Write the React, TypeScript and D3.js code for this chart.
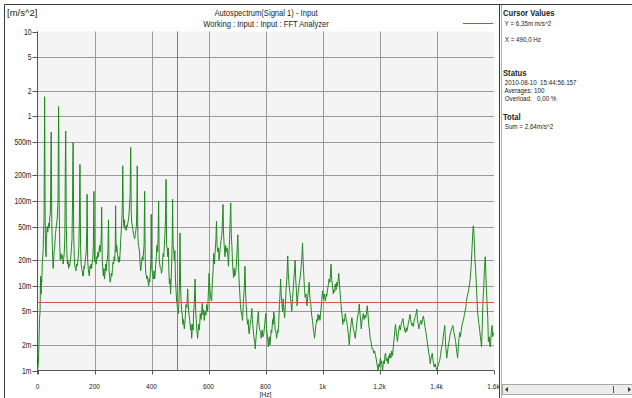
import React, { useEffect, useRef } from 'react'
import * as d3 from 'd3'

// autospectrum, [Hz, m/s^2]
const spectrum: [number, number][] = [
    [0, 0.001], [3, 0.0012], [5, 0.002], [7, 0.004], [9, 0.005], [10, 0.009], [11, 0.013], [12, 0.009], [13, 0.008], [14, 0.012],
    [15, 0.011], [17, 0.019], [19, 0.024], [20, 0.027], [21, 0.04], [23, 0.06], [24, 0.3], [25, 1.7], [26, 0.3], [27, 0.06],
    [28, 0.03], [30, 0.022], [31, 0.035], [33, 0.045], [34, 0.05], [36, 0.043], [38, 0.05], [40, 0.055], [41, 0.048], [43, 0.065],
    [45, 0.07], [46, 0.12], [47, 0.3], [48, 0.65], [49, 0.25], [50, 0.06], [52, 0.03], [53, 0.022], [55, 0.016], [57, 0.02],
    [58, 0.025], [60, 0.027], [61, 0.032], [63, 0.04], [65, 0.047], [67, 0.055], [69, 0.06], [70, 0.07], [72, 0.1], [73, 0.4],
    [74, 1.3], [75, 0.5], [76, 0.09], [78, 0.03], [80, 0.02], [82, 0.024], [84, 0.021], [86, 0.023], [88, 0.022], [90, 0.018],
    [92, 0.021], [94, 0.025], [96, 0.04], [97, 0.12], [98, 0.35], [99, 0.67], [100, 0.2], [101, 0.05], [103, 0.025], [105, 0.018],
    [107, 0.02], [109, 0.016], [111, 0.018], [113, 0.017], [115, 0.02], [117, 0.022], [119, 0.028], [121, 0.035], [123, 0.1], [124, 0.3],
    [125, 0.49], [126, 0.15], [127, 0.04], [129, 0.022], [131, 0.017], [133, 0.016], [135, 0.015], [137, 0.018], [139, 0.017], [141, 0.019],
    [143, 0.022], [145, 0.028], [147, 0.06], [148, 0.15], [149, 0.27], [150, 0.1], [151, 0.03], [153, 0.018], [155, 0.016], [157, 0.015],
    [159, 0.013], [161, 0.013], [163, 0.017], [165, 0.016], [167, 0.019], [169, 0.022], [171, 0.025], [173, 0.05], [174, 0.12], [175, 0.06],
    [176, 0.02], [178, 0.016], [180, 0.014], [182, 0.013], [184, 0.017], [186, 0.016], [188, 0.018], [190, 0.016], [192, 0.019], [194, 0.021],
    [196, 0.03], [198, 0.13], [199, 0.06], [200, 0.02], [202, 0.019], [204, 0.02], [206, 0.018], [208, 0.022], [210, 0.021], [212, 0.025],
    [214, 0.022], [216, 0.026], [218, 0.03], [220, 0.025], [222, 0.03], [224, 0.04], [225, 0.085], [226, 0.05], [227, 0.02], [229, 0.016],
    [231, 0.013], [233, 0.016], [235, 0.012], [237, 0.014], [239, 0.018], [241, 0.015], [243, 0.019], [245, 0.02], [247, 0.025], [249, 0.06],
    [250, 0.04], [251, 0.015], [253, 0.013], [255, 0.011], [257, 0.012], [259, 0.014], [261, 0.013], [263, 0.016], [265, 0.019], [267, 0.018],
    [269, 0.022], [271, 0.02], [273, 0.03], [274, 0.088], [275, 0.04], [276, 0.025], [278, 0.03], [280, 0.025], [282, 0.022], [284, 0.019],
    [286, 0.022], [288, 0.019], [290, 0.025], [292, 0.035], [294, 0.045], [296, 0.06], [298, 0.1], [299, 0.26], [300, 0.15], [301, 0.07],
    [303, 0.05], [305, 0.06], [307, 0.047], [309, 0.05], [311, 0.045], [313, 0.052], [315, 0.05], [317, 0.055], [319, 0.06], [321, 0.07],
    [323, 0.09], [325, 0.12], [327, 0.43], [328, 0.2], [329, 0.07], [331, 0.055], [333, 0.05], [335, 0.045], [337, 0.04], [339, 0.038],
    [341, 0.036], [343, 0.04], [345, 0.045], [347, 0.05], [349, 0.1], [350, 0.26], [351, 0.09], [352, 0.04], [354, 0.03], [356, 0.028],
    [358, 0.025], [360, 0.018], [362, 0.015], [364, 0.017], [366, 0.02], [368, 0.022], [370, 0.02], [372, 0.025], [374, 0.03], [376, 0.13],
    [377, 0.05], [378, 0.02], [380, 0.014], [382, 0.013], [384, 0.012], [386, 0.013], [388, 0.011], [390, 0.01], [392, 0.012], [394, 0.011],
    [396, 0.015], [398, 0.02], [399, 0.07], [400, 0.03], [401, 0.016], [403, 0.014], [405, 0.013], [407, 0.012], [409, 0.015], [411, 0.012],
    [413, 0.014], [415, 0.018], [417, 0.022], [419, 0.03], [421, 0.025], [423, 0.035], [425, 0.1], [426, 0.05], [427, 0.02], [429, 0.018],
    [431, 0.016], [433, 0.016], [435, 0.014], [437, 0.015], [439, 0.02], [441, 0.024], [443, 0.022], [445, 0.03], [447, 0.04], [449, 0.06],
    [451, 0.18], [452, 0.08], [453, 0.03], [455, 0.028], [457, 0.022], [459, 0.028], [461, 0.015], [463, 0.0105], [465, 0.012], [467, 0.008],
    [469, 0.012], [471, 0.02], [473, 0.04], [474, 0.105], [475, 0.05], [476, 0.03], [478, 0.026], [480, 0.02], [482, 0.026], [484, 0.012],
    [486, 0.009], [488, 0.0066], [490, 0.006], [492, 0.005], [494, 0.0047], [496, 0.006], [498, 0.01], [500, 0.042], [501, 0.02], [502, 0.01],
    [504, 0.0066], [506, 0.005], [508, 0.0045], [510, 0.0035], [512, 0.004], [515, 0.0031], [518, 0.004], [521, 0.006], [524, 0.0055], [527, 0.0092],
    [530, 0.005], [532, 0.0045], [534, 0.0039], [537, 0.003], [539, 0.0035], [541, 0.0024], [544, 0.0035], [546, 0.003], [548, 0.005], [550, 0.006],
    [553, 0.012], [555, 0.005], [557, 0.004], [559, 0.003], [562, 0.0024], [565, 0.0035], [568, 0.003], [571, 0.0047], [574, 0.004], [576, 0.005],
    [578, 0.0062], [581, 0.0045], [583, 0.0052], [585, 0.0039], [588, 0.005], [591, 0.0045], [594, 0.006], [597, 0.005], [600, 0.009], [602, 0.014],
    [605, 0.009], [608, 0.007], [611, 0.0066], [613, 0.01], [616, 0.015], [618, 0.024], [621, 0.018], [623, 0.025], [626, 0.035], [628, 0.058],
    [630, 0.03], [632, 0.025], [635, 0.028], [637, 0.02], [640, 0.025], [642, 0.03], [644, 0.034], [647, 0.04], [649, 0.06], [651, 0.091],
    [653, 0.04], [655, 0.03], [658, 0.022], [660, 0.03], [663, 0.025], [665, 0.028], [668, 0.022], [670, 0.017], [672, 0.025], [674, 0.035],
    [676, 0.06], [678, 0.095], [680, 0.04], [682, 0.03], [684, 0.02], [686, 0.015], [688, 0.0125], [690, 0.016], [692, 0.013], [695, 0.014],
    [698, 0.018], [700, 0.025], [703, 0.04], [705, 0.02], [707, 0.012], [710, 0.008], [712, 0.006], [714, 0.005], [717, 0.0045], [719, 0.0039],
    [721, 0.005], [723, 0.007], [726, 0.01], [728, 0.017], [730, 0.009], [732, 0.006], [735, 0.0042], [737, 0.0035], [739, 0.004], [741, 0.003],
    [743, 0.0027], [746, 0.0035], [749, 0.004], [752, 0.0054], [754, 0.004], [757, 0.003], [759, 0.0025], [762, 0.0022], [764, 0.0018], [767, 0.0025],
    [769, 0.003], [772, 0.004], [775, 0.005], [777, 0.0035], [780, 0.003], [783, 0.0028], [785, 0.0024], [788, 0.003], [791, 0.0025], [794, 0.0027],
    [797, 0.0035], [799, 0.004], [801, 0.0047], [804, 0.003], [807, 0.0025], [810, 0.0019], [813, 0.0025], [815, 0.002], [817, 0.0022], [820, 0.003],
    [822, 0.0028], [825, 0.004], [827, 0.0035], [829, 0.0049], [832, 0.004], [834, 0.003], [837, 0.0028], [839, 0.0024], [842, 0.003], [844, 0.0028],
    [846, 0.0035], [849, 0.006], [851, 0.008], [853, 0.012], [855, 0.008], [858, 0.006], [860, 0.005], [862, 0.007], [865, 0.005], [867, 0.0042],
    [870, 0.006], [872, 0.009], [875, 0.012], [878, 0.0225], [880, 0.014], [883, 0.01], [885, 0.0087], [888, 0.007], [890, 0.006], [892, 0.005],
    [895, 0.007], [898, 0.01], [901, 0.014], [904, 0.02], [906, 0.012], [909, 0.008], [911, 0.0058], [914, 0.008], [916, 0.009], [918, 0.0105],
    [921, 0.012], [924, 0.015], [927, 0.02], [930, 0.032], [932, 0.02], [935, 0.012], [937, 0.009], [939, 0.0073], [942, 0.008], [944, 0.006],
    [946, 0.0058], [949, 0.008], [951, 0.009], [953, 0.011], [956, 0.007], [959, 0.006], [962, 0.0045], [965, 0.0039], [968, 0.003], [970, 0.0028],
    [972, 0.0024], [975, 0.003], [977, 0.0035], [980, 0.004], [982, 0.0038], [984, 0.0046], [987, 0.004], [989, 0.0045], [991, 0.0039], [994, 0.005],
    [997, 0.0065], [1000, 0.0087], [1003, 0.007], [1006, 0.008], [1008, 0.0072], [1010, 0.0066], [1013, 0.008], [1015, 0.0075], [1017, 0.0087], [1020, 0.01],
    [1023, 0.012], [1026, 0.011], [1028, 0.014], [1030, 0.018], [1032, 0.012], [1035, 0.01], [1038, 0.008], [1040, 0.009], [1043, 0.0085], [1045, 0.0105],
    [1048, 0.009], [1050, 0.011], [1053, 0.01], [1055, 0.012], [1057, 0.014], [1060, 0.01], [1062, 0.008], [1064, 0.0066], [1067, 0.005], [1069, 0.0045],
    [1071, 0.0035], [1074, 0.004], [1077, 0.0038], [1080, 0.0047], [1083, 0.004], [1085, 0.0038], [1087, 0.0034], [1090, 0.0028], [1092, 0.0024], [1094, 0.002],
    [1097, 0.0028], [1100, 0.0035], [1103, 0.0042], [1106, 0.0035], [1109, 0.003], [1112, 0.0028], [1115, 0.0024], [1118, 0.003], [1121, 0.0038], [1124, 0.0045],
    [1127, 0.005], [1129, 0.0061], [1132, 0.0045], [1134, 0.0038], [1136, 0.0031], [1139, 0.004], [1141, 0.0042], [1143, 0.0047], [1146, 0.004], [1149, 0.0045],
    [1152, 0.0042], [1155, 0.005], [1157, 0.0058], [1160, 0.0045], [1162, 0.0035], [1165, 0.003], [1167, 0.0024], [1170, 0.0022], [1172, 0.002], [1174, 0.0018],
    [1177, 0.0018], [1180, 0.0016], [1183, 0.0017], [1186, 0.0015], [1188, 0.0014], [1191, 0.0012], [1195, 0.001], [1198, 0.0012], [1200, 0.0011], [1203, 0.0014],
    [1205, 0.0012], [1207, 0.0013], [1209, 0.0011], [1211, 0.001], [1214, 0.0013], [1217, 0.0012], [1219, 0.0015], [1221, 0.0016], [1224, 0.0013], [1227, 0.0014],
    [1230, 0.0012], [1233, 0.0015], [1235, 0.0014], [1237, 0.0016], [1240, 0.0014], [1243, 0.0017], [1246, 0.0015], [1249, 0.002], [1252, 0.0025], [1254, 0.003],
    [1256, 0.0035], [1259, 0.0028], [1261, 0.0025], [1263, 0.0022], [1266, 0.0028], [1268, 0.003], [1270, 0.0034], [1273, 0.003], [1276, 0.0035], [1279, 0.0038],
    [1282, 0.0041], [1285, 0.0035], [1288, 0.003], [1291, 0.0028], [1294, 0.0032], [1296, 0.0029], [1298, 0.0031], [1301, 0.0036], [1304, 0.004], [1307, 0.0046],
    [1309, 0.004], [1311, 0.0037], [1314, 0.0034], [1316, 0.0036], [1319, 0.0033], [1321, 0.0038], [1324, 0.0042], [1327, 0.0045], [1329, 0.0048], [1331, 0.0053],
    [1333, 0.004], [1336, 0.0035], [1338, 0.0031], [1341, 0.0035], [1343, 0.0037], [1345, 0.0039], [1348, 0.0035], [1351, 0.004], [1354, 0.0044], [1357, 0.0038],
    [1360, 0.0032], [1363, 0.0028], [1366, 0.0024], [1368, 0.0021], [1370, 0.0019], [1373, 0.0016], [1376, 0.0014], [1378, 0.0012], [1381, 0.0014], [1383, 0.0015],
    [1385, 0.0016], [1388, 0.0013], [1390, 0.0012], [1392, 0.0011], [1395, 0.0012], [1398, 0.0011], [1401, 0.001], [1404, 0.0011], [1407, 0.0012], [1411, 0.0013],
    [1414, 0.0015], [1417, 0.0018], [1420, 0.002], [1422, 0.0022], [1425, 0.0028], [1427, 0.003], [1429, 0.0034], [1431, 0.0025], [1433, 0.0018], [1436, 0.0014],
    [1438, 0.0016], [1441, 0.0019], [1443, 0.0021], [1446, 0.0024], [1449, 0.0028], [1452, 0.003], [1455, 0.0032], [1457, 0.0034], [1460, 0.003], [1462, 0.0027],
    [1465, 0.0024], [1467, 0.0022], [1470, 0.0018], [1472, 0.0016], [1474, 0.0014], [1477, 0.002], [1479, 0.0024], [1481, 0.0028], [1484, 0.0025], [1487, 0.003],
    [1490, 0.0035], [1493, 0.0038], [1496, 0.0042], [1498, 0.0046], [1500, 0.005], [1503, 0.0055], [1505, 0.0065], [1507, 0.0073], [1510, 0.008], [1513, 0.009],
    [1516, 0.0105], [1518, 0.012], [1521, 0.016], [1524, 0.025], [1527, 0.04], [1529, 0.051], [1531, 0.045], [1533, 0.03], [1535, 0.02], [1537, 0.016],
    [1540, 0.01], [1542, 0.007], [1544, 0.005], [1547, 0.004], [1549, 0.0035], [1551, 0.0031], [1554, 0.0025], [1556, 0.0022], [1558, 0.0019], [1560, 0.003],
    [1563, 0.0066], [1566, 0.01], [1568, 0.015], [1571, 0.022], [1573, 0.015], [1575, 0.009], [1577, 0.0066], [1580, 0.004], [1582, 0.0022], [1585, 0.0025],
    [1587, 0.002], [1589, 0.0019], [1592, 0.0028], [1595, 0.0034], [1597, 0.0025], [1600, 0.0028]
]

const yTickValues = [10, 5, 2, 1, 0.5, 0.2, 0.1, 0.05, 0.02, 0.01, 0.005, 0.002, 0.001]
const yTickLabels = ['10', '5', '2', '1', '500m', '200m', '100m', '50m', '20m', '10m', '5m', '2m', '1m']
const xTickValues = [0, 200, 400, 600, 800, 1000, 1200, 1400, 1600]
const xTickLabels = ['0', '200', '400', '600', '800', '1k', '1,2k', '1,4k', '1,6k']

const cursorHz = 490
const cursorLevel = 0.00635

const titleLines = ['Autospectrum(Signal 1) - Input', 'Working : Input : Input : FFT Analyzer']
const unitLabel = '[m/s^2]'
const xUnitLabel = '[Hz]'

// right info panel: [text, bold, y]
const panelRows: [string, boolean, number][] = [
    ['Cursor Values', true, 13],
    [' Y = 6,35m m/s^2', false, 23],
    [' X = 490,0 Hz', false, 39],
    ['Status', true, 73],
    [' 2010-08-10  15:44:56.157', false, 82],
    [' Averages: 100', false, 90],
    [' Overload:   0,00 %', false, 98],
    ['Total', true, 117],
    [' Sum = 2,64m/s^2', false, 126]
]

const font = "'Liberation Sans', Arial, sans-serif"

// narrow the glyphs horizontally, like the condensed UI font of the original
const squeeze = (sel: any, k: number) => {
    sel.each(function (this: SVGTextElement) {
        const len = this.getComputedTextLength()
        if (len > 0) {
            d3.select(this).attr('textLength', len * k).attr('lengthAdjust', 'spacingAndGlyphs')
        }
    })
}

export default function App() {
    const ref = useRef<SVGSVGElement>(null)
    const W = 632
    const H = 398
    const plot = { left: 37.5, right: 494, top: 31.5, bottom: 370.5 }

    useEffect(() => {
        draw()
    }, [])

    const draw = () => {
        const svg = d3.select(ref.current)
        svg.selectAll('*').remove()

        const x = d3.scaleLinear().domain([0, 1600]).range([plot.left, 493.5])
        const y = d3.scaleLog().domain([0.001, 10]).range([plot.bottom, plot.top])

        // frame
        svg.append('rect').attr('width', W).attr('height', H).attr('fill', '#fff')
        svg.append('line').attr('x1', 4.5).attr('x2', 4.5).attr('y1', 4.5).attr('y2', H).attr('stroke', '#3a3a3a')
        svg.append('line').attr('x1', 4.5).attr('x2', W).attr('y1', 4.5).attr('y2', 4.5).attr('stroke', '#3a3a3a')

        // plot background
        svg.append('rect')
            .attr('x', plot.left).attr('y', plot.top)
            .attr('width', plot.right - plot.left).attr('height', plot.bottom - plot.top)
            .attr('fill', '#f4f4f4')

        // grid
        svg.append('g')
            .selectAll('line')
            .data(xTickValues.slice(1, -1))
            .join('line')
            .attr('x1', d => Math.round(x(d)) + 0.5).attr('x2', d => Math.round(x(d)) + 0.5)
            .attr('y1', plot.top).attr('y2', plot.bottom)
            .attr('stroke', '#9a9a9a')
        svg.append('g')
            .selectAll('line')
            .data(yTickValues.slice(1, -1))
            .join('line')
            .attr('x1', plot.left).attr('x2', plot.right)
            .attr('y1', d => Math.round(y(d)) + 0.5).attr('y2', d => Math.round(y(d)) + 0.5)
            .attr('stroke', '#9a9a9a')

        // axes
        const axisColor = '#555'
        svg.append('line').attr('x1', plot.left).attr('x2', plot.left).attr('y1', plot.top).attr('y2', plot.bottom + 4).attr('stroke', axisColor)
        svg.append('line').attr('x1', plot.left).attr('x2', plot.right).attr('y1', plot.bottom).attr('y2', plot.bottom).attr('stroke', axisColor)

        svg.append('g')
            .selectAll('line')
            .data(yTickValues)
            .join('line')
            .attr('x1', plot.left - 5).attr('x2', plot.left)
            .attr('y1', d => Math.round(y(d)) + 0.5).attr('y2', d => Math.round(y(d)) + 0.5)
            .attr('stroke', axisColor)
        const yLabels = svg.append('g')
            .selectAll('text')
            .data(yTickValues)
            .join('text')
            .attr('x', plot.left - 6)
            .attr('y', d => y(d) + 3)
            .attr('text-anchor', 'end')
            .style('font-family', font).style('font-size', '8.5px').attr('fill', '#222')
            .text((d, i) => yTickLabels[i])
        squeeze(yLabels, 0.8)

        svg.append('g')
            .selectAll('line')
            .data(xTickValues)
            .join('line')
            .attr('x1', d => Math.round(x(d)) + 0.5).attr('x2', d => Math.round(x(d)) + 0.5)
            .attr('y1', plot.bottom).attr('y2', plot.bottom + 4)
            .attr('stroke', axisColor)
        const xLabels = svg.append('g')
            .selectAll('text')
            .data(xTickValues)
            .join('text')
            .attr('x', d => x(d))
            .attr('y', 388.5)
            .attr('text-anchor', 'middle')
            .style('font-family', font).style('font-size', '8px').attr('fill', '#222')
            .text((d, i) => xTickLabels[i])
        squeeze(xLabels, 0.82)
        const hz = svg.append('text')
            .attr('x', x(800)).attr('y', 397)
            .attr('text-anchor', 'middle')
            .style('font-family', font).style('font-size', '7.5px').attr('fill', '#222')
            .text(xUnitLabel)
        squeeze(hz, 0.9)

        // titles
        svg.append('text').attr('x', 7).attr('y', 15.5)
            .style('font-family', font).style('font-size', '9.5px').attr('fill', '#222')
            .text(unitLabel)
        const titles = svg.append('g')
            .selectAll('text')
            .data(titleLines)
            .join('text')
            .attr('x', 266).attr('y', (d, i) => 15.5 + i * 11.5)
            .attr('text-anchor', 'middle')
            .style('font-family', font).style('font-size', '9.5px').attr('fill', '#222')
            .text(d => d)
        squeeze(titles, 0.8)
        svg.append('line').attr('x1', 463).attr('x2', 493).attr('y1', 23.5).attr('y2', 23.5).attr('stroke', '#2e9a2e')

        // spectrum
        svg.append('clipPath').attr('id', 'plotClip')
            .append('rect')
            .attr('x', plot.left).attr('y', plot.top - 1)
            .attr('width', plot.right - plot.left).attr('height', plot.bottom - plot.top + 3)

        const line = d3.line<[number, number]>()
            .x(d => x(d[0]))
            .y(d => y(Math.max(d[1], 0.00095)))

        svg.append('path')
            .datum(spectrum)
            .attr('clip-path', 'url(#plotClip)')
            .attr('d', line)
            .attr('fill', 'none')
            .attr('stroke', '#1f8a1f')
            .attr('stroke-width', 1)
            .attr('stroke-linejoin', 'round')

        // cursors
        svg.append('line')
            .attr('x1', Math.round(x(cursorHz)) + 0.5).attr('x2', Math.round(x(cursorHz)) + 0.5)
            .attr('y1', plot.top).attr('y2', plot.bottom)
            .attr('stroke', '#d9534f')
        svg.append('line')
            .attr('x1', plot.left).attr('x2', plot.right)
            .attr('y1', Math.round(y(cursorLevel)) + 0.5).attr('y2', Math.round(y(cursorLevel)) + 0.5)
            .attr('stroke', '#d9534f')

        // info panel
        svg.append('line').attr('x1', 499.5).attr('x2', 499.5).attr('y1', 4.5).attr('y2', H).attr('stroke', '#3a3a3a')
        svg.append('line').attr('x1', 501.5).attr('x2', 501.5).attr('y1', 5).attr('y2', H).attr('stroke', '#b0b0b0')
        const rows = svg.append('g')
            .selectAll('text')
            .data(panelRows)
            .join('text')
            .attr('x', 503)
            .attr('y', d => d[2] + 3)
            .style('font-family', font)
            .style('font-size', d => d[1] ? '8.5px' : '8px')
            .style('font-weight', d => d[1] ? 'bold' : 'normal')
            .style('white-space', 'pre')
            .attr('fill', '#222')
            .text(d => d[0])
        squeeze(rows.filter(d => d[1]), 0.9)
        squeeze(rows.filter(d => !d[1]), 0.78)

        // scrollbar
        const sb = svg.append('g')
        sb.append('rect').attr('x', 502.5).attr('y', 384.5).attr('width', 130).attr('height', 10).attr('fill', '#ececec').attr('stroke', '#a8a8a8')
        sb.append('path').attr('d', 'M 505 389.5 L 508 387 L 508 392 Z').attr('fill', '#333')
        sb.append('line').attr('x1', 613.5).attr('x2', 613.5).attr('y1', 386).attr('y2', 393).attr('stroke', '#555')
        sb.append('path').attr('d', 'M 631 389.5 L 628 387 L 628 392 Z').attr('fill', '#333')
    }

    return (
        <svg ref={ref} width={W} height={H} style={{ position: 'absolute', left: 0, top: 0, display: 'block' }}></svg>
    )
}
